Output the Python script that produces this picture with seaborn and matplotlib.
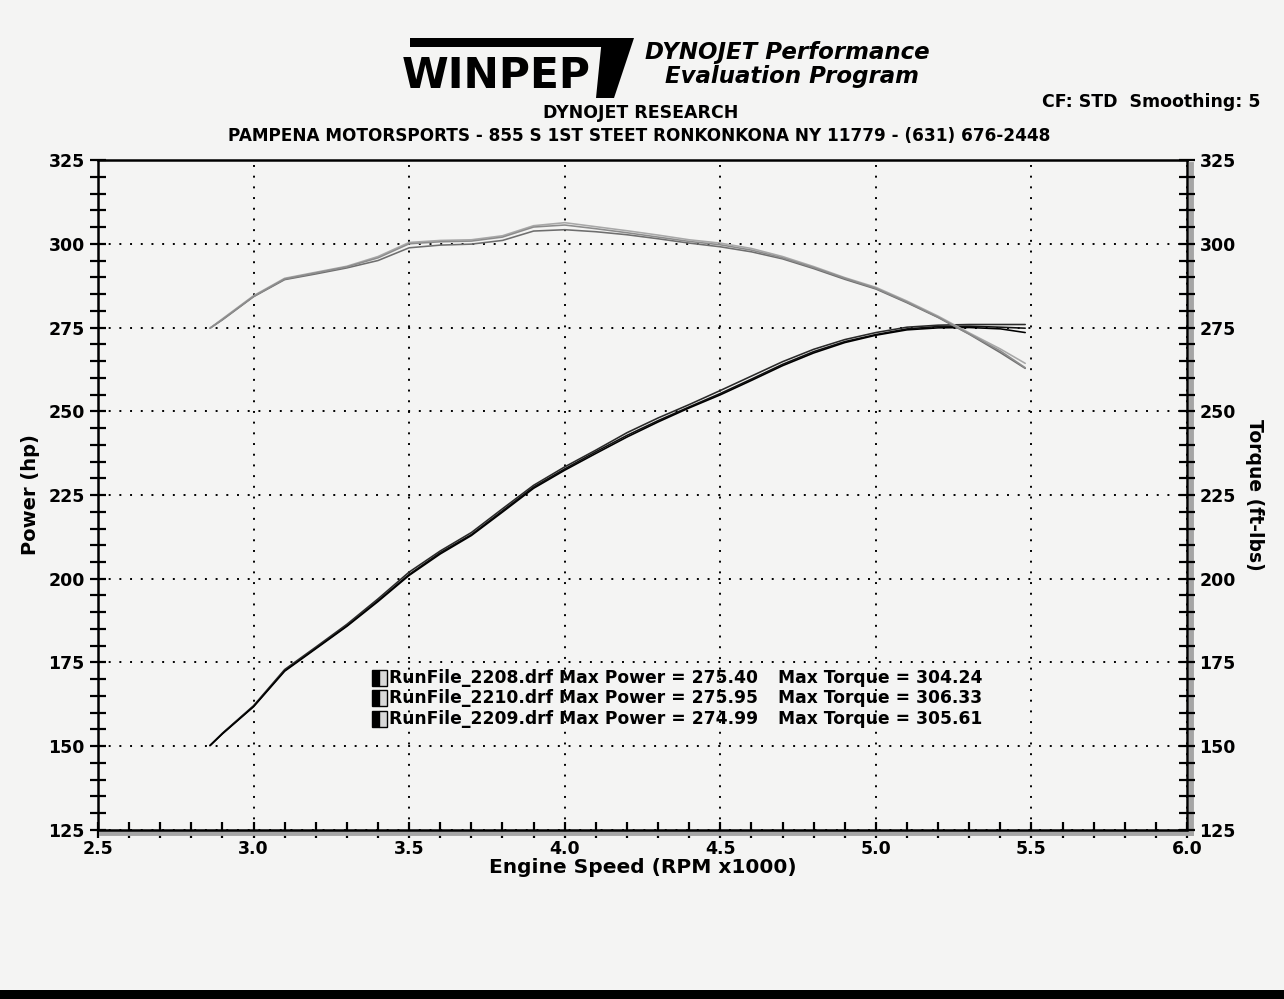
import numpy as np
import pandas as pd
import matplotlib
matplotlib.use("Agg")
import matplotlib.pyplot as plt
import matplotlib.patheffects as pe
from matplotlib.patches import Rectangle, Polygon
from matplotlib.ticker import MultipleLocator
import seaborn as sns

# ---------------- data (read from the dyno sheet) ----------------
rpm = [2.86, 2.9, 3.0, 3.1, 3.2, 3.3, 3.4, 3.5, 3.6, 3.7, 3.8, 3.9, 4.0, 4.1,
       4.2, 4.3, 4.4, 4.5, 4.6, 4.7, 4.8, 4.9, 5.0, 5.1, 5.2, 5.3, 5.4, 5.48]

power_2208 = [150.2, 153.8, 161.9, 172.6, 179.3, 186.0, 193.5, 201.3, 207.8, 213.2,
              220.3, 227.4, 232.8, 237.9, 242.8, 247.2, 251.3, 255.3, 259.6, 264.0,
              267.8, 270.8, 272.9, 274.6, 275.3, 275.4, 275.1, 274.8]
power_2210 = [150.2, 153.9, 162.1, 172.9, 179.6, 186.4, 194.0, 202.0, 208.3, 213.8,
              220.9, 227.9, 233.4, 238.4, 243.6, 248.0, 252.0, 256.2, 260.5, 264.8,
              268.5, 271.4, 273.5, 275.1, 275.7, 275.9, 275.9, 275.9]
power_2209 = [150.2, 153.7, 161.8, 172.4, 179.1, 185.8, 193.2, 201.0, 207.4, 212.9,
              219.9, 227.0, 232.4, 237.4, 242.3, 246.8, 251.0, 254.9, 259.2, 263.6,
              267.4, 270.5, 272.7, 274.3, 274.9, 275.0, 274.6, 273.5]

torque_2208 = [274.8, 277.3, 284.2, 289.3, 291.0, 292.8, 295.0, 298.8, 299.6, 299.9,
               301.0, 303.8, 304.2, 303.6, 302.7, 301.5, 300.2, 299.1, 297.6, 295.5,
               292.6, 289.4, 286.5, 282.4, 278.0, 273.0, 267.5, 262.8]
torque_2210 = [274.8, 277.6, 284.5, 289.7, 291.5, 293.3, 296.2, 300.4, 301.0, 301.2,
               302.4, 305.4, 306.3, 305.1, 303.9, 302.6, 301.2, 300.2, 298.6, 296.2,
               293.2, 289.9, 287.0, 282.9, 278.4, 273.4, 268.6, 264.3]
torque_2209 = [274.8, 277.4, 284.3, 289.5, 291.3, 293.1, 295.8, 300.0, 300.6, 300.8,
               302.0, 305.0, 305.6, 304.5, 303.3, 302.0, 300.7, 299.7, 298.1, 295.8,
               292.9, 289.7, 286.7, 282.6, 278.1, 273.1, 268.0, 263.0]

runs = ["RunFile_2208.drf", "RunFile_2210.drf", "RunFile_2209.drf"]
max_power = ["275.40", "275.95", "274.99"]
max_torque = ["304.24", "306.33", "305.61"]

x_ticks = [2.5, 3.0, 3.5, 4.0, 4.5, 5.0, 5.5, 6.0]
y_ticks = [125, 150, 175, 200, 225, 250, 275, 300, 325]

power_df = pd.DataFrame({
    "rpm": rpm * 3,
    "value": power_2208 + power_2210 + power_2209,
    "run": [runs[0]] * len(rpm) + [runs[1]] * len(rpm) + [runs[2]] * len(rpm),
})
torque_df = pd.DataFrame({
    "rpm": rpm * 3,
    "value": torque_2208 + torque_2210 + torque_2209,
    "run": [runs[0]] * len(rpm) + [runs[1]] * len(rpm) + [runs[2]] * len(rpm),
})

# ---------------- style ----------------
sns.set_theme(style="white")
plt.rcParams["font.family"] = ["DejaVu Sans"]
plt.rcParams["font.weight"] = "bold"
plt.rcParams["axes.labelweight"] = "bold"
plt.rcParams["text.color"] = "black"
plt.rcParams["axes.labelcolor"] = "black"
plt.rcParams["xtick.color"] = "black"
plt.rcParams["ytick.color"] = "black"

paper = "#f4f4f3"
fig = plt.figure(figsize=(12.84, 9.99), dpi=100, facecolor=paper)
ax = fig.add_axes([0.0763, 0.1692, 0.8482, 0.6706])
ax.set_facecolor("none")

power_pal = {runs[0]: "#111111", runs[1]: "#2a2a2a", runs[2]: "#000000"}
torque_pal = {runs[0]: "#6e6e6e", runs[1]: "#a8a8a8", runs[2]: "#8c8c8c"}

sns.lineplot(data=power_df, x="rpm", y="value", hue="run", palette=power_pal,
             linewidth=1.15, legend=False, ax=ax, sort=True)
ax2 = ax.twinx()
ax2.set_facecolor("none")
sns.lineplot(data=torque_df, x="rpm", y="value", hue="run", palette=torque_pal,
             linewidth=1.15, legend=False, ax=ax2, sort=True)

for a in (ax, ax2):
    a.set_xlim(x_ticks[0], x_ticks[-1])
    a.set_ylim(y_ticks[0], y_ticks[-1])
    a.set_yticks(y_ticks)
    a.yaxis.set_minor_locator(MultipleLocator(5))
ax.set_xticks(x_ticks)
ax.xaxis.set_minor_locator(MultipleLocator(0.1))

ax.tick_params(axis="both", which="both", direction="inout", colors="black",
               labelsize=12.5, width=1.6, labelcolor="black")
ax.tick_params(axis="both", which="major", length=11, pad=4)
ax.tick_params(axis="x", which="major", pad=2)
ax.tick_params(axis="both", which="minor", length=11)
ax.tick_params(axis="y", which="both", left=True, right=False)
ax.tick_params(axis="x", which="both", bottom=True, top=False)
ax2.tick_params(axis="y", which="both", direction="inout", right=True, left=False,
                labelsize=12.5, width=1.6, length=11, colors="black",
                labelcolor="black")

for lab in ax.get_xticklabels() + ax.get_yticklabels() + ax2.get_yticklabels():
    lab.set_fontweight("bold")

# dotted grid
ax.grid(True, which="major", axis="both", color="black",
        linestyle=(0, (1, 4.5)), linewidth=1.4)
ax.set_axisbelow(True)

# frame with a grey shadow
for a in (ax, ax2):
    for s in a.spines.values():
        s.set_visible(False)
for name in ["left", "right", "top", "bottom"]:
    sp = ax.spines[name]
    sp.set_visible(True)
    sp.set_color("black")
    sp.set_linewidth(1.8)
    if name in ("right", "bottom"):
        sp.set_path_effects([pe.SimpleLineShadow(offset=(2.5, -2.5),
                                                 shadow_color="#a5a5a5",
                                                 alpha=1.0, linewidth=3.5),
                             pe.Normal()])

ax.set_xlabel("Engine Speed (RPM x1000)", fontsize=14.5, fontweight="bold",
              labelpad=0, color="black")
ax.set_ylabel("Power (hp)", fontsize=14, fontweight="bold", labelpad=6, color="black")
ax2.set_ylabel("Torque (ft-lbs)", fontsize=13.5, fontweight="bold", rotation=-90,
               labelpad=20, color="black")

# legend block
row_y = [0.227, 0.197, 0.166]
for i in range(3):
    ax.add_patch(Rectangle((0.252, row_y[i] - 0.012), 0.0065, 0.024,
                           transform=ax.transAxes, facecolor="black",
                           edgecolor="black", linewidth=1.0, zorder=6))
    ax.add_patch(Rectangle((0.2585, row_y[i] - 0.012), 0.0065, 0.024,
                           transform=ax.transAxes, facecolor="#d8d8d8",
                           edgecolor="black", linewidth=1.0, zorder=6))
    ax.text(0.267, row_y[i], f"{runs[i]} Max Power = {max_power[i]}",
            transform=ax.transAxes, fontsize=12.3, fontweight="bold",
            va="center", ha="left", zorder=6, color="black")
    ax.text(0.624, row_y[i], f"Max Torque = {max_torque[i]}",
            transform=ax.transAxes, fontsize=12.3, fontweight="bold",
            va="center", ha="left", zorder=6, color="black")

# header logo
fig.patches.append(Rectangle((410 / 1284, 1 - 47 / 999), 205 / 1284, 9 / 999,
                             transform=fig.transFigure, facecolor="black",
                             edgecolor="none"))
fig.patches.append(Polygon([(602 / 1284, 1 - 38 / 999), (634 / 1284, 1 - 38 / 999),
                            (614 / 1284, 1 - 98 / 999), (596 / 1284, 1 - 98 / 999)],
                           closed=True, transform=fig.transFigure,
                           facecolor="black", edgecolor="none"))
fig.text(496 / 1284, 1 - 76 / 999, "WINPEP", fontsize=30.5, fontweight="heavy",
         ha="center", va="center", color="black")
fig.text(645 / 1284, 1 - 52 / 999, "DYNOJET Performance", fontsize=16.5,
         fontweight="bold", fontstyle="italic", ha="left", va="center")
fig.text(665 / 1284, 1 - 77 / 999, "Evaluation Program", fontsize=16.5,
         fontweight="bold", fontstyle="italic", ha="left", va="center")
fig.text(641 / 1284, 1 - 113 / 999, "DYNOJET RESEARCH", fontsize=12.5,
         fontweight="bold", ha="center", va="center")
fig.text(639 / 1284, 1 - 136 / 999,
         "PAMPENA MOTORSPORTS - 855 S 1ST STEET RONKONKONA NY 11779 - (631) 676-2448",
         fontsize=12.2, fontweight="bold", ha="center", va="center")
fig.text(1260 / 1284, 1 - 102 / 999, "CF: STD  Smoothing: 5", fontsize=12.5,
         fontweight="bold", ha="right", va="center")

# black strip at the bottom of the scan
fig.patches.append(Rectangle((0, 0), 1, 9 / 999, transform=fig.transFigure,
                             facecolor="black", edgecolor="none"))

fig.savefig("out.png", dpi=100, facecolor=paper)
